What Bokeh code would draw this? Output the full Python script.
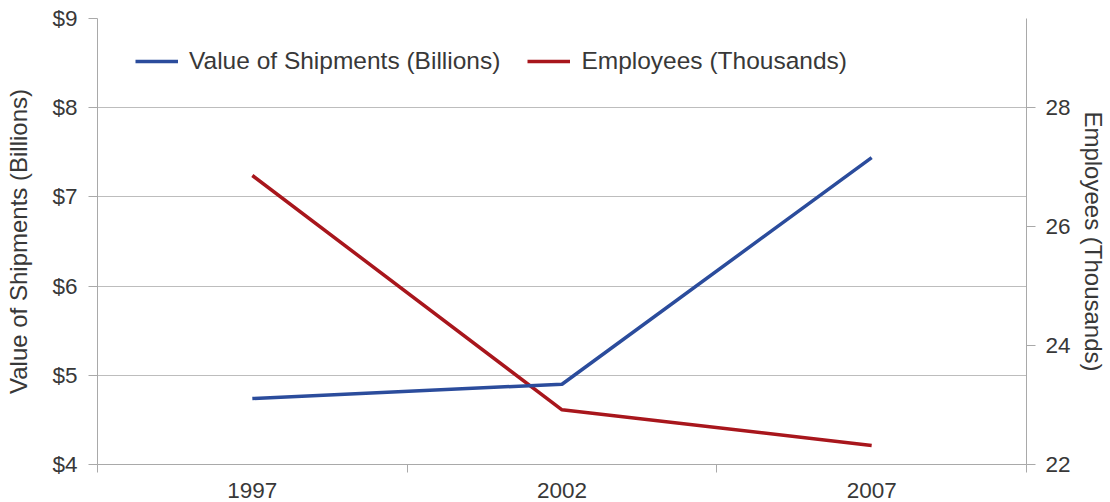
from bokeh.plotting import figure
from bokeh.models import Range1d, LinearAxis, FixedTicker, NumeralTickFormatter, Legend, LegendItem
from bokeh.embed import file_html
from bokeh.resources import INLINE

# ---- data ----
years = ["1997", "2002", "2007"]
shipments = [4.74, 4.90, 7.44]          # Value of Shipments (Billions $)
employees = [26.86, 22.92, 22.32]       # Employees (Thousands)
left_ticks = [4, 5, 6, 7, 8, 9]
right_ticks = [22, 24, 26, 28]

FONT = "Liberation Sans"
TXT = "#383838"
AXC = "#a9a9a9"
GRC = "#bdbdbd"
BLUE = "#2b4c9c"
RED = "#a8161c"
TICK_FS = "22.5px"
LABEL_FS = "24px"
LEGEND_FS = "24.5px"

xpos = [i + 0.5 for i in range(len(years))]
bounds = [float(i) for i in range(len(years) + 1)]

p = figure(width=1110, height=502, x_range=Range1d(0, len(years)), y_range=Range1d(4, 9),
           output_backend="svg", toolbar_location=None,
           min_border_left=97, min_border_right=84, min_border_top=18, min_border_bottom=38)
p.extra_y_ranges = {"emp": Range1d(22, 29.5)}
p.outline_line_color = None
p.background_fill_color = "white"
p.border_fill_color = "white"

# x axis (categorical-style: labels centred, ticks at boundaries)
xa = p.xaxis[0]
xa.ticker = FixedTicker(ticks=xpos, minor_ticks=bounds)
xa.major_label_overrides = {x: y for x, y in zip(xpos, years)}
xa.major_tick_out = 0
xa.major_tick_in = 0
xa.minor_tick_out = 8
xa.minor_tick_in = 0
xa.minor_tick_line_color = AXC
xa.axis_line_color = AXC
xa.major_label_standoff = 10
xa.major_label_text_font = FONT
xa.major_label_text_font_size = TICK_FS
xa.major_label_text_color = TXT

# left axis
ya = p.yaxis[0]
ya.ticker = FixedTicker(ticks=left_ticks, minor_ticks=[])
ya.formatter = NumeralTickFormatter(format="$0")
ya.axis_label = "Value of Shipments (Billions)"
ya.axis_label_text_font = FONT
ya.axis_label_text_font_size = LABEL_FS
ya.axis_label_text_font_style = "normal"
ya.axis_label_text_color = TXT
ya.axis_label_standoff = 17
ya.major_tick_out = 9
ya.major_tick_in = 0
ya.major_tick_line_color = AXC
ya.minor_tick_line_color = None
ya.axis_line_color = AXC
ya.major_label_standoff = 11
ya.major_label_text_font = FONT
ya.major_label_text_font_size = TICK_FS
ya.major_label_text_color = TXT

# right axis
ra = LinearAxis(y_range_name="emp", ticker=FixedTicker(ticks=right_ticks, minor_ticks=[]))
ra.axis_label = "Employees (Thousands)"
ra.axis_label_text_font = FONT
ra.axis_label_text_font_size = LABEL_FS
ra.axis_label_text_font_style = "normal"
ra.axis_label_text_color = TXT
ra.axis_label_standoff = 6
ra.major_tick_out = 9
ra.major_tick_in = 0
ra.major_tick_line_color = AXC
ra.minor_tick_line_color = None
ra.axis_line_color = AXC
ra.major_label_standoff = 10
ra.major_label_text_font = FONT
ra.major_label_text_font_size = TICK_FS
ra.major_label_text_color = TXT
p.add_layout(ra, "right")

# grid
p.xgrid.visible = False
p.ygrid.ticker = FixedTicker(ticks=left_ticks, minor_ticks=[])
p.ygrid.grid_line_color = GRC
p.ygrid.grid_line_width = 1

# lines
rr = p.line(xpos, employees, y_range_name="emp", line_color=RED, line_width=3.5)
rb = p.line(xpos, shipments, line_color=BLUE, line_width=3.5)

legend = Legend(items=[LegendItem(label="Value of Shipments (Billions)", renderers=[rb]),
                       LegendItem(label="Employees (Thousands)", renderers=[rr])],
                orientation="horizontal", location=(38, 389),
                border_line_color=None, background_fill_alpha=0,
                padding=0, margin=0, spacing=27, glyph_width=43, glyph_height=20,
                label_standoff=11, label_text_font=FONT, label_text_font_size=LEGEND_FS,
                label_text_color=TXT)
p.add_layout(legend)

open("out.html", "w").write(file_html(p, INLINE))
